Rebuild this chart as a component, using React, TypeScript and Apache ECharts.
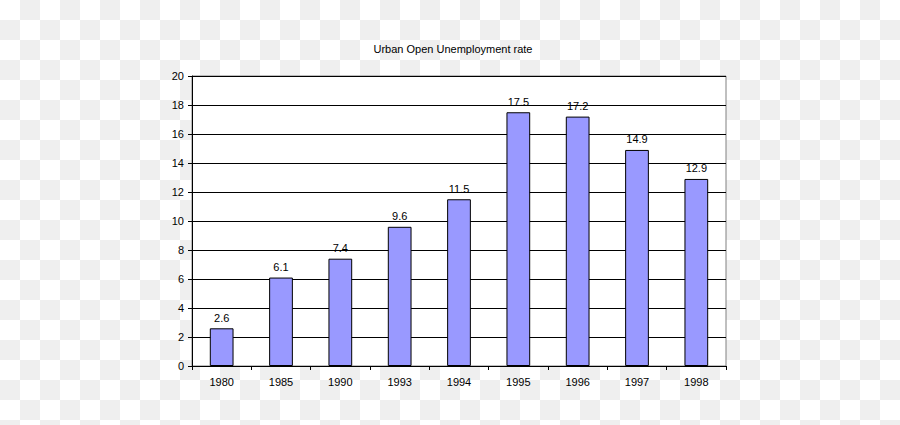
import React, { useEffect, useRef } from "react";
import * as echarts from "echarts";

const categories = ["1980", "1985", "1990", "1993", "1994", "1995", "1996", "1997", "1998"];
const rates = [2.6, 6.1, 7.4, 9.6, 11.5, 17.5, 17.2, 14.9, 12.9];
const yTicks = { min: 0, max: 20, interval: 2 };
const titleText = "Urban Open Unemployment rate";

export default function App() {
  const ref = useRef<HTMLDivElement>(null);
  useEffect(() => {
    if (!ref.current) return;
    const chart = echarts.init(ref.current, null, { renderer: "svg" });
    const font = "'Liberation Sans', Arial, sans-serif";
    chart.setOption({
      animation: false,
      backgroundColor: "transparent",
      title: {
        text: titleText,
        left: 448,
        top: 38,
        textAlign: "center",
        textStyle: { fontFamily: font, fontSize: 11, fontWeight: "normal", color: "#000" },
      },
      grid: {
        left: 192,
        top: 76,
        width: 534,
        height: 290,
        show: true,
        backgroundColor: "#fff",
        borderColor: "#808080",
        borderWidth: 1,
      },
      xAxis: {
        type: "category",
        data: categories,
        axisLine: { show: true, lineStyle: { color: "#000", width: 1 } },
        axisTick: { show: true, alignWithLabel: false, length: 4, lineStyle: { color: "#000" } },
        axisLabel: { color: "#000", fontFamily: font, fontSize: 11, margin: 10 },
        splitLine: { show: false },
      },
      yAxis: {
        type: "value",
        min: yTicks.min,
        max: yTicks.max,
        interval: yTicks.interval,
        axisLine: { show: true, lineStyle: { color: "#000", width: 1 } },
        axisTick: { show: true, length: 4, lineStyle: { color: "#000" } },
        axisLabel: { color: "#000", fontFamily: font, fontSize: 11, margin: 8 },
        splitLine: { show: true, lineStyle: { color: "#000", width: 1 } },
      },
      series: [
        {
          type: "bar",
          data: rates,
          barWidth: "40%",
          itemStyle: { color: "#9999ff", borderColor: "#000", borderWidth: 1 },
          label: {
            show: true,
            position: "top",
            distance: 5,
            color: "#000",
            fontFamily: font,
            fontSize: 11,
          },
        },
      ],
    });
    return () => chart.dispose();
  }, []);
  return (
    <div
      style={{
        position: "absolute",
        left: 0,
        top: 0,
        width: 900,
        height: 425,
        background: "repeating-conic-gradient(#efefef 0 25%, #ffffff 0 50%) 0 0 / 40px 40px",
      }}
    >
      <div ref={ref} style={{ width: 900, height: 425 }} />
    </div>
  );
}
